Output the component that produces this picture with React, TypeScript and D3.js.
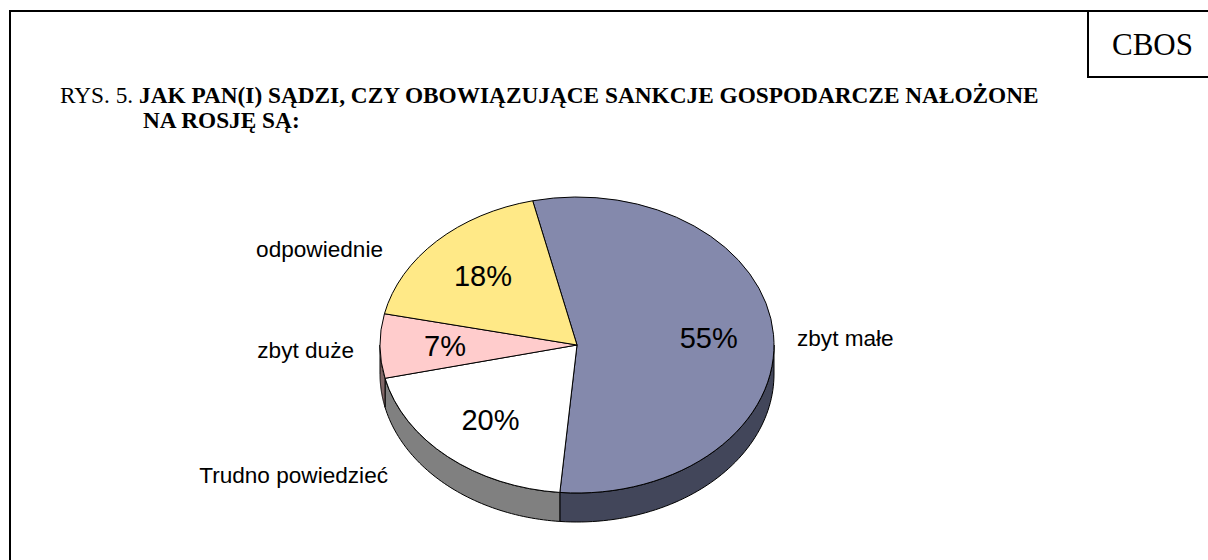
import React from 'react';
import * as d3 from 'd3';

// Survey answers, clockwise from the top of the pie
const CATEGORIES = ['zbyt małe', 'Trudno powiedzieć', 'zbyt duże', 'odpowiednie'];
const VALUES = [55, 20, 7, 18];
const TOP_COLORS = ['#8489AC', '#FFFFFF', '#FFCCCC', '#FFE987'];
const SIDE_COLORS = ['#42465A', '#808080', '#806666', '#807444'];

const TITLE_PREFIX = 'RYS. 5. ';
const TITLE_LINE1 = 'JAK PAN(I) SĄDZI, CZY OBOWIĄZUJĄCE SANKCJE GOSPODARCZE NAŁOŻONE';
const TITLE_LINE2 = 'NA ROSJĘ SĄ:';

// where Excel put the category labels (layout only)
const LABEL_LAYOUT = [
  { x: 797, y: 346, anchor: 'start' },
  { x: 388, y: 483, anchor: 'end' },
  { x: 354, y: 358, anchor: 'end' },
  { x: 383, y: 257, anchor: 'end' },
];

const App = () => {
  const width = 1208;
  const height = 560;
  const cx = 577;
  const cy = 345;
  const rx = 197;
  const ry = 148;
  const depth = 29;
  const start = (-13 * Math.PI) / 180;

  const pie = d3
    .pie<number>()
    .sort(null)
    .value((d) => d)
    .startAngle(start)
    .endAngle(start + 2 * Math.PI);
  const arcs = pie(VALUES);

  const arc = d3.arc<d3.PieArcDatum<number>>().innerRadius(0).outerRadius(rx);

  const px = (a: number, f = 1) => cx + f * rx * Math.sin(a);
  const py = (a: number, f = 1) => cy - f * ry * Math.cos(a);

  const line = d3.line<[number, number]>();

  // Side walls, only on the front half of the ellipse
  const sides = arcs
    .map((a, i) => {
      const s = Math.max(a.startAngle, Math.PI / 2);
      const e = Math.min(a.endAngle, (3 * Math.PI) / 2);
      if (e <= s) return null;
      const ts = d3.range(61).map((k) => s + ((e - s) * k) / 60);
      const top = ts.map((t) => [px(t), py(t)] as [number, number]);
      const bottom = ts
        .slice()
        .reverse()
        .map((t) => [px(t), py(t) + depth] as [number, number]);
      return { i, d: line([...top, ...bottom]) + 'Z' };
    })
    .filter((d) => d !== null) as { i: number; d: string }[];

  const serif = '"Liberation Serif", "Times New Roman", serif';
  const sans = '"Liberation Sans", Arial, sans-serif';

  return (
    <svg
      width={width}
      height={height}
      style={{ position: 'absolute', left: 0, top: 0, background: '#fff' }}
    >
      <rect x={10} y={11} width={1400} height={800} fill="#fff" stroke="#000" strokeWidth={2} />
      <path d="M1088,11V77H1210" fill="none" stroke="#000" strokeWidth={2} />
      <text x={1112} y={55} fontFamily={serif} fontSize={31}>
        CBOS
      </text>

      <text x={60} y={103} fontFamily={serif} fontSize={23.3}>
        <tspan>{TITLE_PREFIX}</tspan>
        <tspan fontWeight="bold">{TITLE_LINE1}</tspan>
      </text>
      <text x={143} y={128} fontFamily={serif} fontSize={23.3} fontWeight="bold">
        {TITLE_LINE2}
      </text>

      <g>
        {sides.map((s) => (
          <path key={s.i} d={s.d} fill={SIDE_COLORS[s.i]} stroke="#000" strokeWidth={1} />
        ))}
      </g>

      <g transform={`translate(${cx},${cy}) scale(1,${ry / rx})`}>
        {arcs.map((a, i) => (
          <path
            key={i}
            d={arc(a) || ''}
            fill={TOP_COLORS[i]}
            stroke="#000"
            strokeWidth={1}
            vectorEffect="non-scaling-stroke"
          />
        ))}
      </g>

      <g fontFamily={sans} fontSize={29} textAnchor="middle">
        {arcs.map((a, i) => {
          const mid = (a.startAngle + a.endAngle) / 2;
          return (
            <text key={i} x={px(mid, 0.67)} y={py(mid, 0.67)} dy="0.35em">
              {`${VALUES[i]}%`}
            </text>
          );
        })}
      </g>

      <g fontFamily={sans} fontSize={22.6}>
        {CATEGORIES.map((c, i) => (
          <text key={c} x={LABEL_LAYOUT[i].x} y={LABEL_LAYOUT[i].y} textAnchor={LABEL_LAYOUT[i].anchor}>
            {c}
          </text>
        ))}
      </g>
    </svg>
  );
};

export default App;
